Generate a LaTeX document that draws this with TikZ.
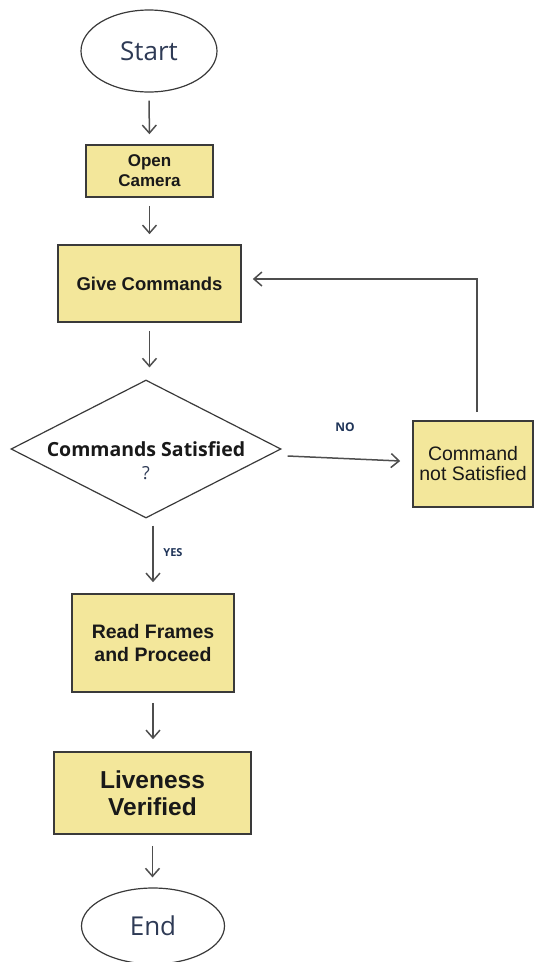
\documentclass[tikz,border=0pt]{standalone}
\usepackage{fontspec}
\setmainfont{Liberation Sans}
\newfontfamily\osans{Open Sans}
\usetikzlibrary{shapes.geometric,arrows.meta}
\definecolor{boxfill}{HTML}{F3E79B}
\definecolor{edge}{HTML}{3A3A3A}
\definecolor{termtext}{HTML}{2E3A55}
\definecolor{lbltext}{HTML}{1F3458}
\tikzset{
  term/.style={ellipse, draw=edge, line width=1.2pt, inner sep=0pt, font=\osans\fontsize{26}{28}\selectfont, text=termtext},
  stepbox/.style={rectangle, draw=edge, line width=1.6pt, fill=boxfill, inner sep=0pt, align=center, text=black!90},
  arr/.style={draw=edge!90, line width=1.5pt, -{Straight Barb[length=8pt,width=14pt,line width=1.5pt]}},
  lbl/.style={font=\osans\bfseries\fontsize{12}{14}\selectfont, text=lbltext}
}
\begin{document}
\begin{tikzpicture}[x=1pt,y=-1pt]
\useasboundingbox (0,0) rectangle (534,962);
% nodes
\node[term, minimum width=136pt, minimum height=82pt] (start) at (149,51) {Start};
\node[stepbox, minimum width=127pt, minimum height=52pt, font=\bfseries\fontsize{17}{20}\selectfont] (open) at (149.5,171) {Open\\Camera};
\node[stepbox, minimum width=183pt, minimum height=77pt, font=\bfseries\fontsize{18.5}{22}\selectfont] (give) at (149.5,283.5) {Give Commands};
\node[diamond, draw=edge, line width=1.2pt, minimum width=270pt, minimum height=138pt, inner sep=0pt, aspect=1.96] (dec) at (146,449) {};
\node[font=\osans\bfseries\fontsize{19.5}{22}\selectfont, text=black!90] (dectext) at (146,449) {Commands Satisfied};
\node[font=\osans\fontsize{18}{20}\selectfont, text=termtext] (q) at (146,473) {?};
\node[stepbox, minimum width=120pt, minimum height=86pt, font=\fontsize{19.5}{20}\selectfont] (cns) at (473,464) {Command\\not Satisfied};
\node[stepbox, minimum width=162pt, minimum height=98pt, font=\bfseries\fontsize{19.5}{23}\selectfont] (read) at (153,643) {Read Frames\\and Proceed};
\node[stepbox, minimum width=197pt, minimum height=82pt, font=\bfseries\fontsize{24.5}{27}\selectfont] (live) at (152.5,793) {Liveness\\Verified};
\node[term, minimum width=143pt, minimum height=76pt] (end) at (153,926) {End};
\node[lbl] (no) at (345,427) {NO};
\node[lbl, font=\osans\bfseries\fontsize{11}{13}\selectfont] (yes) at (173,553) {YES};
\coordinate (fb) at (477,412);
% connectors
\draw[arr, shorten <=8pt, shorten >=10pt] (start.south) -- (open.north);
\draw[arr, shorten <=8pt, shorten >=10pt] (open.south) -- (give.north);
\draw[arr, shorten <=8pt, shorten >=12pt] (give.south) -- (give.south |- dec.north);
\draw[arr] ([xshift=6pt,yshift=-7pt]dec.east) -- ([xshift=-12pt,yshift=3pt]cns.west);
\draw[arr] (fb) |- ([xshift=11pt,yshift=4.5pt]give.east);
\draw[arr, shorten <=7pt, shorten >=11pt] (dec.south -| read.north) -- (read.north);
\draw[arr, shorten <=10pt, shorten >=12pt] (read.south) -- (read.south |- live.north);
\draw[arr, shorten <=11pt, shorten >=10pt] (live.south) -- (live.south |- end.north);
\end{tikzpicture}
\end{document}
